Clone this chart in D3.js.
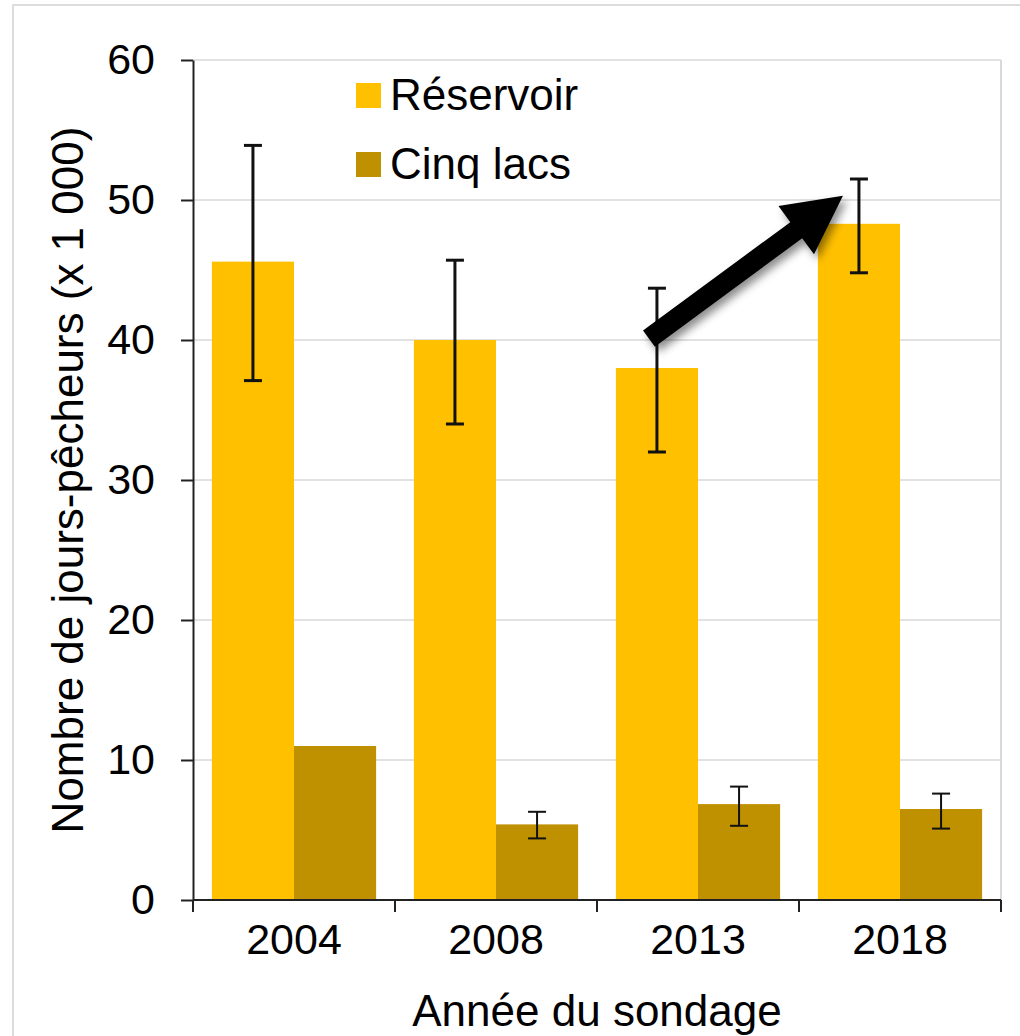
<!DOCTYPE html>
<html>
<head>
<meta charset="utf-8">
<script src="https://cdn.jsdelivr.net/npm/d3@7"></script>
<style>
body{margin:0;background:#fff}
text{font-family:"Liberation Sans",Arial,sans-serif;fill:#000}
</style>
</head>
<body>
<div id="chart"></div>
<script>
// data
const years=['2004','2008','2013','2018']
const series=['Réservoir','Cinq lacs']
const reservoir=[45.6,40.0,38.0,48.3]
const reservoirLow=[37.1,34.0,32.0,44.8]
const reservoirHigh=[53.9,45.7,43.7,51.5]
const cinqLacs=[11.0,5.4,6.85,6.5]
const cinqLow=[null,4.4,5.3,5.1]
const cinqHigh=[null,6.3,8.1,7.6]
const yTicks=[0,10,20,30,40,50,60]
const arrowFrom={year:'2013',value:40.1}
const arrowTo={year:'2018',value:50.3}

const colors={'Réservoir':'#FFC000','Cinq lacs':'#BF9000'}

const W=1020,H=1036
const margin=({top:60,right:19,bottom:136,left:193})
const width=W-margin.left-margin.right,
	height=H-margin.top-margin.bottom

const rows=years.map((y,i)=>({year:y,values:[
	{key:'Réservoir',v:reservoir[i],lo:reservoirLow[i],hi:reservoirHigh[i]},
	{key:'Cinq lacs',v:cinqLacs[i],lo:cinqLow[i],hi:cinqHigh[i]}
]}))

const root=d3.select('#chart').append('svg')
	.attr('width',W)
	.attr('height',H)

const defs=root.append('defs')
defs.append('filter')
	.attr('id','shadow')
	.attr('x','-20%').attr('y','-20%').attr('width','150%').attr('height','150%')
	.append('feDropShadow')
	.attr('dx',4).attr('dy',5).attr('stdDeviation',4)
	.attr('flood-color','#000').attr('flood-opacity',0.45)

// outer frame
root.append('rect')
	.attr('x',13).attr('y',5)
	.attr('width',W).attr('height',H)
	.attr('fill','none')
	.attr('stroke','#dcdcdc')
	.attr('stroke-width',2)

const svg=root.append('g')
	.attr('transform','translate('+margin.left+','+margin.top+')')

const xScale=d3.scaleBand()
	.domain(years)
	.range([0,width])

const xInner=d3.scaleBand()
	.domain(series)
	.range([0,xScale.bandwidth()])
	.paddingOuter(0.23)

const yScale=d3.scaleLinear()
	.domain([0,60])
	.range([height,0])

// grid
svg.append('g')
	.selectAll('line')
	.data(yTicks.filter(d=>d>0))
	.join('line')
	.attr('x1',0).attr('x2',width)
	.attr('y1',d=>yScale(d)).attr('y2',d=>yScale(d))
	.attr('stroke','#d9d9d9')
	.attr('stroke-width',1.5)

svg.append('line')
	.attr('x1',width).attr('x2',width)
	.attr('y1',0).attr('y2',height)
	.attr('stroke','#d9d9d9')
	.attr('stroke-width',2)

// bars
const groups=svg.selectAll('.year')
	.data(rows)
	.join('g')
	.attr('class','year')
	.attr('transform',d=>'translate('+xScale(d.year)+',0)')

groups.selectAll('rect')
	.data(d=>d.values)
	.join('rect')
	.attr('x',d=>xInner(d.key))
	.attr('width',xInner.bandwidth())
	.attr('y',d=>yScale(d.v))
	.attr('height',d=>height-yScale(d.v))
	.attr('fill',d=>colors[d.key])

// error bars
const errs=groups.selectAll('.err')
	.data(d=>d.values.filter(v=>v.lo!=null))
	.join('g')
	.attr('class','err')
	.attr('stroke','#111')
	.attr('stroke-width',d=>d.key==='Réservoir'?3:2)
	.attr('transform',d=>'translate('+(xInner(d.key)+xInner.bandwidth()/2)+',0)')

errs.append('line')
	.attr('y1',d=>yScale(d.lo)).attr('y2',d=>yScale(d.hi))
errs.append('line')
	.attr('x1',-9).attr('x2',9)
	.attr('y1',d=>yScale(d.hi)).attr('y2',d=>yScale(d.hi))
errs.append('line')
	.attr('x1',-9).attr('x2',9)
	.attr('y1',d=>yScale(d.lo)).attr('y2',d=>yScale(d.lo))

// axes
const yAxis=d3.axisLeft(yScale)
	.tickValues(yTicks)
	.tickSize(12)
	.tickPadding(26)
	.tickSizeOuter(0)

const xAxis=d3.axisBottom(xScale)
	.tickSize(0)
	.tickPadding(23)

const gy=svg.append('g').call(yAxis)
const gx=svg.append('g')
	.attr('transform','translate(0,'+height+')')
	.call(xAxis)

// category boundary ticks
gx.selectAll('.bound')
	.data(d3.range(years.length+1))
	.join('line')
	.attr('class','bound')
	.attr('x1',i=>i*xScale.step()).attr('x2',i=>i*xScale.step())
	.attr('y1',0).attr('y2',12)

;[gx,gy].forEach(g=>{
	g.selectAll('path,line').attr('stroke','#222').attr('stroke-width',2)
	g.selectAll('text').attr('font-size',43).attr('fill','#000')
		.attr('font-family','"Liberation Sans",Arial,sans-serif')
})
gx.select('.domain').attr('d','M0,0H'+width)

// arrow annotation
function arrowPath(x0,y0,x1,y1,shaft,headW,headL){
	const dx=x1-x0,dy=y1-y0,len=Math.hypot(dx,dy)
	const ux=dx/len,uy=dy/len,nx=-uy,ny=ux
	const bx=x1-ux*headL,by=y1-uy*headL
	const p=[
		[x0+nx*shaft/2,y0+ny*shaft/2],
		[bx+nx*shaft/2,by+ny*shaft/2],
		[bx+nx*headW/2,by+ny*headW/2],
		[x1,y1],
		[bx-nx*headW/2,by-ny*headW/2],
		[bx-nx*shaft/2,by-ny*shaft/2],
		[x0-nx*shaft/2,y0-ny*shaft/2]
	]
	return 'M'+p.map(d=>d.join(',')).join('L')+'Z'
}
const ax0=xScale(arrowFrom.year)+xInner('Réservoir')+xInner.bandwidth()/2-8
const ax1=xScale(arrowTo.year)+xInner('Réservoir')+xInner.bandwidth()/2-16
svg.append('path')
	.attr('d',arrowPath(ax0,yScale(arrowFrom.value),ax1,yScale(arrowTo.value),20,60,58))
	.attr('fill','#000')
	.attr('filter','url(#shadow)')

// legend
const legend=svg.append('g')
	.attr('transform','translate(114,0)')
legend.append('rect')
	.attr('x',0).attr('y',1)
	.attr('width',285).attr('height',134)
	.attr('fill','#fff')
const li=legend.selectAll('.li')
	.data(series)
	.join('g')
	.attr('class','li')
	.attr('transform',(d,i)=>'translate(49,'+(23+i*69)+')')
li.append('rect')
	.attr('width',25).attr('height',25)
	.attr('fill',d=>colors[d])
li.append('text')
	.attr('x',34).attr('y',27)
	.attr('font-size',44)
	.text(d=>d)

// titles
root.append('text')
	.attr('x',margin.left+width/2)
	.attr('y',1026)
	.attr('text-anchor','middle')
	.attr('font-size',44)
	.text('Année du sondage')

root.append('text')
	.attr('transform','translate(83,'+(margin.top+height/2)+') rotate(-90)')
	.attr('text-anchor','middle')
	.attr('font-size',44)
	.text('Nombre de jours-pêcheurs (x 1 000)')
</script>
</body>
</html>
